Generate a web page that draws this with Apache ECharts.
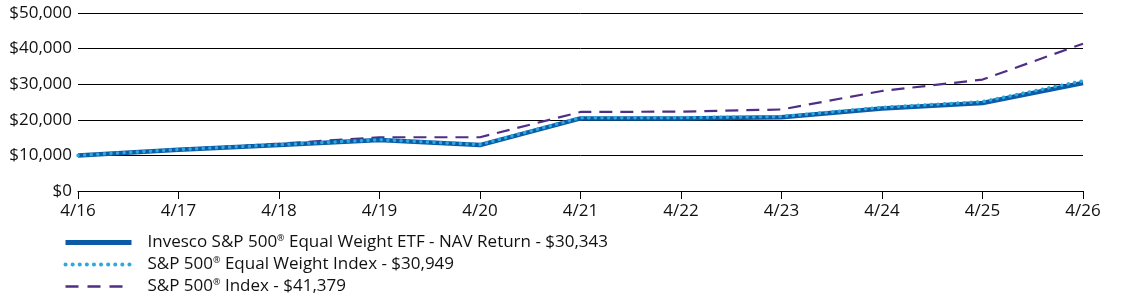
<!DOCTYPE html>
<html>
<head>
<meta charset="utf-8">
<script src="https://cdn.jsdelivr.net/npm/echarts@6/dist/echarts.min.js"></script>
<style>
  html, body { margin: 0; padding: 0; background: #fff; }
  #chart { width: 1123px; height: 304px; }
</style>
</head>
<body>
<div id="chart"></div>
<script>
const categories = ['4/16', '4/17', '4/18', '4/19', '4/20', '4/21', '4/22', '4/23', '4/24', '4/25', '4/26']
const etfNav = [10000, 11600, 12900, 14300, 12900, 20400, 20400, 20700, 23200, 24700, 30343]
const equalWeightIndex = [10000, 11650, 13000, 14400, 13050, 20600, 20600, 20900, 23500, 25100, 30949]
const sp500Index = [10000, 11700, 13300, 15100, 15100, 22200, 22300, 22900, 28100, 31300, 41379]
const yTicks = { min: 0, max: 50000, interval: 10000 }

const names = [
  'Invesco S&P 500® Equal Weight ETF - NAV Return - $30,343',
  'S&P 500® Equal Weight Index - $30,949',
  'S&P 500® Index - $41,379'
]

const colors = ['#0b5ba6', '#2aa9e0', '#4f2f86']

const chart = echarts.init(document.getElementById('chart'))
const font = 'Open Sans'

chart.setOption({
  animation: false,
  grid: { left: 78, right: 40, top: 13, bottom: 113, containLabel: false },
  legend: {
    orient: 'vertical',
    left: 58,
    top: 229,
    itemWidth: 66,
    itemHeight: 14,
    itemGap: 5,
    itemStyle: { opacity: 0 },
    textStyle: {
      fontFamily: font,
      fontSize: 17,
      color: '#111',
      padding: [0, 0, 0, 11],
      rich: {
        sup: { fontSize: 9, fontFamily: font, color: '#111', padding: [0, 0, 8, 0] }
      }
    },
    formatter (name) {
      return name.replace('®', '{sup|®}')
    },
    data: [
      { name: names[0], lineStyle: { width: 5, color: colors[0] } },
      { name: names[1], lineStyle: { width: 4, color: colors[1], type: [0.1, 7], cap: 'round' } },
      { name: names[2], lineStyle: { width: 2.5, color: colors[2], type: [13, 9] } }
    ]
  },
  xAxis: {
    type: 'category',
    data: categories,
    boundaryGap: false,
    axisLine: { lineStyle: { color: '#000', width: 1 } },
    axisTick: { show: true, length: 8, alignWithLabel: true, lineStyle: { color: '#000' } },
    axisLabel: { color: '#111', fontFamily: font, fontSize: 17, margin: 12 },
    splitLine: { show: false }
  },
  yAxis: {
    type: 'value',
    min: yTicks.min,
    max: yTicks.max,
    interval: yTicks.interval,
    axisLine: { show: false },
    axisTick: { show: false },
    axisLabel: {
      color: '#111',
      fontFamily: font,
      fontSize: 17,
      margin: 6,
      formatter: v => '$' + v.toLocaleString('en-US')
    },
    splitLine: { lineStyle: { color: '#000', width: 1 } }
  },
  series: [
    {
      name: names[0],
      type: 'line',
      data: etfNav,
      symbol: 'none',
      z: 3,
      color: colors[0],
      lineStyle: { width: 4.5, color: colors[0] }
    },
    {
      name: names[1],
      type: 'line',
      data: equalWeightIndex,
      symbol: 'none',
      z: 4,
      color: colors[1],
      lineStyle: { width: 3.5, color: colors[1], type: [0.1, 6.5], cap: 'round' }
    },
    {
      name: names[2],
      type: 'line',
      data: sp500Index,
      symbol: 'none',
      z: 2,
      color: colors[2],
      lineStyle: { width: 2.2, color: colors[2], type: [13, 8] }
    }
  ]
})
</script>
</body>
</html>
